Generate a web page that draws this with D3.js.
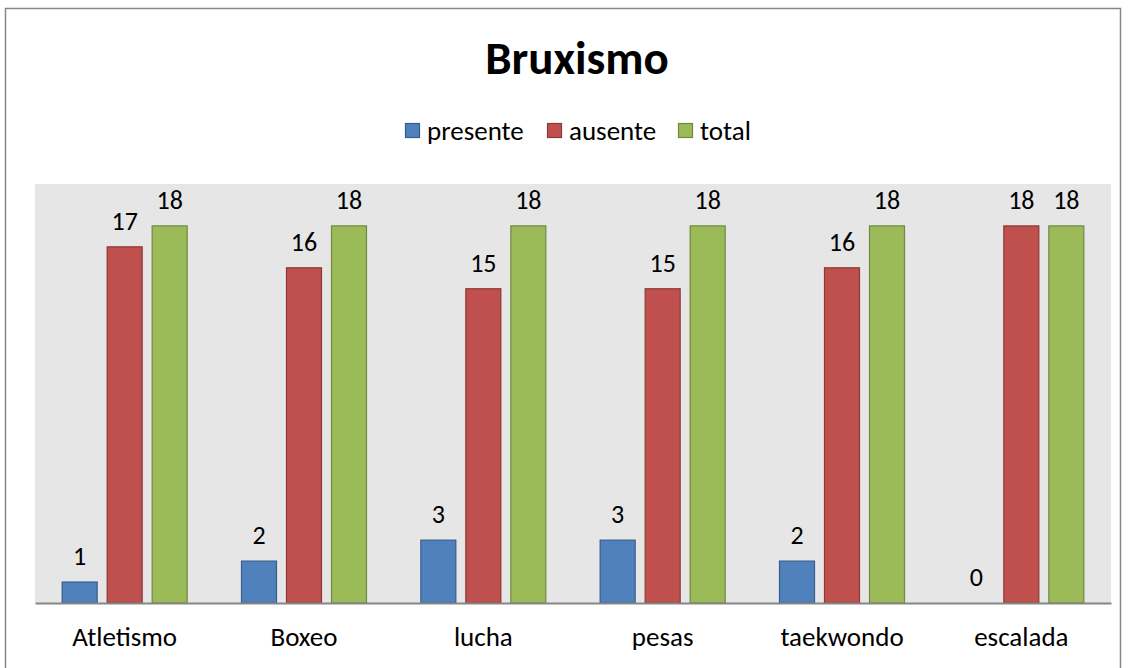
<!DOCTYPE html>
<html>
<head>
<meta charset="utf-8">
<script src="https://cdn.jsdelivr.net/npm/d3@7"></script>
<style>
  body { margin: 0; background: #fff; }
  text { font-family: Carlito, Lato, "Open Sans", sans-serif; fill: #000; }
</style>
</head>
<body>
<svg id="chart" width="1128" height="668"></svg>
<script>
const categories = ["Atletismo", "Boxeo", "lucha", "pesas", "taekwondo", "escalada"];
const seriesNames = ["presente", "ausente", "total"];
const presente = [1, 2, 3, 3, 2, 0];
const ausente = [17, 16, 15, 15, 16, 18];
const total = [18, 18, 18, 18, 18, 18];
const yTicks = [0, 20];

const fills = ["#4F81BD", "#C0504D", "#9BBB59"];
const strokes = ["#385D8A", "#8C3836", "#71893F"];

const svg = d3.select("#chart");
const values = [presente, ausente, total];

// chart border
svg.append("rect")
  .attr("x", 5.5).attr("y", 8.5)
  .attr("width", 1115).attr("height", 680)
  .attr("fill", "none").attr("stroke", "#878787").attr("stroke-width", 1.5);

const plot = { left: 35, right: 1111, top: 184, bottom: 603 };

svg.append("rect")
  .attr("x", plot.left).attr("y", plot.top)
  .attr("width", plot.right - plot.left).attr("height", plot.bottom - plot.top)
  .attr("fill", "#E6E6E6");

const x0 = d3.scaleBand()
  .domain(categories)
  .range([plot.left, plot.right])
  .paddingInner(0).paddingOuter(0);

const innerPad = (x0.bandwidth() - 126) / 2;
const x1 = d3.scaleBand()
  .domain(seriesNames)
  .range([innerPad, x0.bandwidth() - innerPad])
  .paddingInner(0.2).paddingOuter(0);

const y = d3.scaleLinear()
  .domain(d3.extent(yTicks))
  .range([plot.bottom, plot.top]);

const groups = svg.append("g").selectAll("g")
  .data(categories)
  .enter().append("g")
  .attr("transform", d => "translate(" + x0(d) + ",0)");

seriesNames.forEach(function (s, si) {
  groups.append("rect")
    .attr("x", x1(s) + 0.5)
    .attr("y", (d, i) => y(values[si][i]))
    .attr("width", x1.bandwidth() - 1)
    .attr("height", (d, i) => y(0) - y(values[si][i]))
    .attr("fill", fills[si])
    .attr("stroke", strokes[si])
    .attr("stroke-width", 1.2)
    .style("display", (d, i) => values[si][i] === 0 ? "none" : null);

  groups.append("text")
    .attr("x", x1(s) + x1.bandwidth() / 2)
    .attr("y", (d, i) => y(values[si][i]) - 17)
    .attr("text-anchor", "middle")
    .attr("font-size", 26)
    .text((d, i) => values[si][i]);
});

// axis line
svg.append("g")
  .attr("transform", "translate(0," + plot.bottom + ")")
  .call(d3.axisBottom(x0).tickSize(0))
  .call(g => g.select(".domain").attr("stroke", "#868686").attr("stroke-width", 2))
  .call(g => g.selectAll("text")
    .attr("y", 43).attr("dy", 0)
    .attr("font-size", 27)
    .attr("font-family", "Carlito, Lato, 'Open Sans', sans-serif")
    .attr("fill", "#000"));

// title
svg.append("text")
  .attr("x", 577).attr("y", 74)
  .attr("text-anchor", "middle")
  .attr("font-size", 47).attr("font-weight", "bold")
  .text("Bruxismo");

// legend
const legendX = [405, 547, 678];
const legend = svg.append("g").selectAll("g")
  .data(seriesNames)
  .enter().append("g")
  .attr("transform", (d, i) => "translate(" + legendX[i] + ",123)");
legend.append("rect")
  .attr("x", 0.5).attr("y", 0.5)
  .attr("width", 14).attr("height", 14)
  .attr("fill", (d, i) => fills[i])
  .attr("stroke", (d, i) => strokes[i])
  .attr("stroke-width", 1.2);
legend.append("text")
  .attr("x", 22).attr("y", 17)
  .attr("font-size", 27)
  .text(d => d);
</script>
</body>
</html>
